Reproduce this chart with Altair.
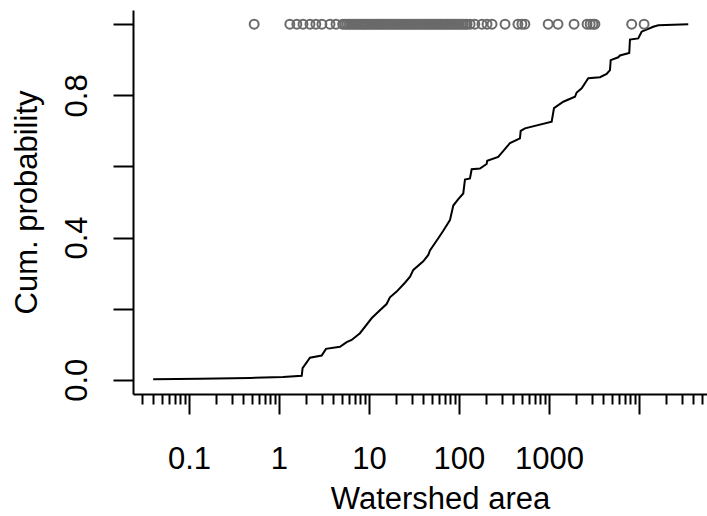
import altair as alt
import pandas as pd

FONT = "Liberation Sans"

# Cumulative probability curve (watershed area, cum. probability)
cdf_area = [0.040, 0.132, 0.476, 1.11, 1.79, 1.83, 2.21, 2.98, 3.33, 4.76, 5.65, 6.42,
            7.94, 10.7, 12.2, 15.7, 17.1, 20.3, 25.1, 28.6, 31.1, 40.1, 45.6, 47.6,
            58.9, 66.9, 79.4, 86.5, 98.3, 111.6, 116.6, 132.5, 138.4, 171, 203, 206,
            273, 353, 369, 476, 485, 541, 1072, 1137, 1443, 1945, 2032, 2309, 2734,
            3687, 4375, 4764, 4850, 5890, 6150, 7800, 7943, 9820, 10700, 14400, 16400,
            35300]
cdf_prob = [0.0015, 0.003, 0.005, 0.008, 0.011, 0.033, 0.062, 0.068, 0.087, 0.093, 0.106, 0.112,
            0.131, 0.173, 0.187, 0.213, 0.232, 0.248, 0.273, 0.290, 0.309, 0.333, 0.351, 0.364,
            0.398, 0.419, 0.449, 0.490, 0.508, 0.524, 0.563, 0.566, 0.592, 0.594, 0.607, 0.616,
            0.627, 0.660, 0.666, 0.679, 0.700, 0.707, 0.726, 0.764, 0.782, 0.796, 0.808, 0.820, 0.848,
            0.851, 0.860, 0.871, 0.899, 0.907, 0.912, 0.919, 0.957, 0.960, 0.979, 0.993, 0.997,
            1.000]

# Individual watersheds drawn at the top (y = 1)
pt_area = [0.53, 1.32, 1.58, 1.85, 2.21, 2.57, 3.0, 3.69, 4.3,
           5.1, 5.4, 5.7, 6.0, 6.3, 6.6, 7.0, 7.3, 7.7, 8.1, 8.5, 8.9, 9.3, 9.8,
           10.3, 10.8, 11.4, 12.0, 12.6, 13.2, 13.9, 14.6, 15.3, 16.1, 16.9, 17.8,
           18.7, 19.6, 20.6, 21.7, 22.8, 24.0, 25.2, 26.5, 27.8, 29.2, 30.7, 32.3,
           34.0, 35.7, 37.5, 39.4, 41.4, 43.5, 45.7, 48.0, 50.5, 53.0, 55.7, 58.6,
           61.6, 64.7, 68.0, 71.5, 75.1, 79.0, 83.0, 87.2, 91.7, 96.4, 101, 106,
           112, 118, 123,
           133, 150, 180, 205, 233, 325, 452, 500, 540, 980, 1260, 1900, 2650,
           2870, 3080, 3240, 8300, 11400]
pt_prob = [1.0] * len(pt_area)

major_ticks = [0.1, 1, 10, 100, 1000, 10000]
minor_ticks = [m * d for d in [0.01, 0.1, 1, 10, 100, 1000, 10000] for m in range(2, 10)
               if 0.025 < m * d < 55000]
y_ticks = [0, 0.2, 0.4, 0.6, 0.8, 1.0]

line_df = pd.DataFrame({"area": cdf_area, "prob": cdf_prob})
pt_df = pd.DataFrame({"area": pt_area, "prob": pt_prob})

xscale = alt.Scale(type="log", domain=[0.02388, 57016], nice=False)
yscale = alt.Scale(domain=[-0.04, 1.04], nice=False, zero=False)

FS = 31

y_axis = alt.Axis(values=y_ticks, grid=False,
                  domainColor="black", domainWidth=2,
                  tickColor="black", tickWidth=2, tickSize=20,
                  labelFont=FONT, labelFontSize=FS, labelColor="black",
                  labelExpr="(datum.value == 0 || datum.value == 0.4 || datum.value == 0.8) ? format(datum.value, '.1f') : ''",
                  labelAngle=270, labelAlign="center", labelBaseline="alphabetic",
                  labelPadding=27, labelOverlap=False,
                  title="Cum. probability", titleFont=FONT, titleFontSize=FS,
                  titleFontWeight="normal", titleColor="black",
                  titleAngle=270, titleX=-97, titleY=192, titleAlign="center",
                  titleBaseline="alphabetic")

line = alt.Chart(line_df).mark_line(color="black", strokeWidth=2).encode(
    x=alt.X("area:Q", scale=xscale,
            axis=alt.Axis(values=major_ticks, orient="bottom", grid=False,
                          domainColor="black", domainWidth=2,
                          tickColor="black", tickWidth=2, tickSize=20,
                          labelFont=FONT, labelFontSize=FS, labelColor="black",
                          labelExpr="datum.value >= 5000 ? '' : toString(datum.value)",
                          labelBaseline="alphabetic", labelAlign="center", labelPadding=54,
                          labelFlush=False, labelOverlap=False,
                          title="Watershed area", titleFont=FONT, titleFontSize=FS,
                          titleFontWeight="normal", titleColor="black",
                          titleX=307, titleY=114, titleAlign="center",
                          titleBaseline="alphabetic")),
    y=alt.Y("prob:Q", scale=yscale, axis=y_axis),
)

points = alt.Chart(pt_df).mark_point(shape="circle", filled=False, color="#6a6a6a",
                                     strokeWidth=2, size=80, opacity=1).encode(
    x=alt.X("area:Q", scale=xscale,
            axis=alt.Axis(values=minor_ticks, orient="bottom", grid=False, domain=False,
                          labels=False, title=None, tickColor="black", tickWidth=2,
                          tickSize=10)),
    y=alt.Y("prob:Q", scale=yscale, axis=y_axis),
)

chart = alt.layer(line, points).resolve_axis(x="independent", y="shared").properties(
    width=574, height=384,
    padding={"left": 133, "top": 10, "right": 0, "bottom": 122},
    autosize="none",
    background="white",
).configure_view(strokeWidth=0)

chart.save("out.html", embed_options={"renderer": "svg", "actions": False})
